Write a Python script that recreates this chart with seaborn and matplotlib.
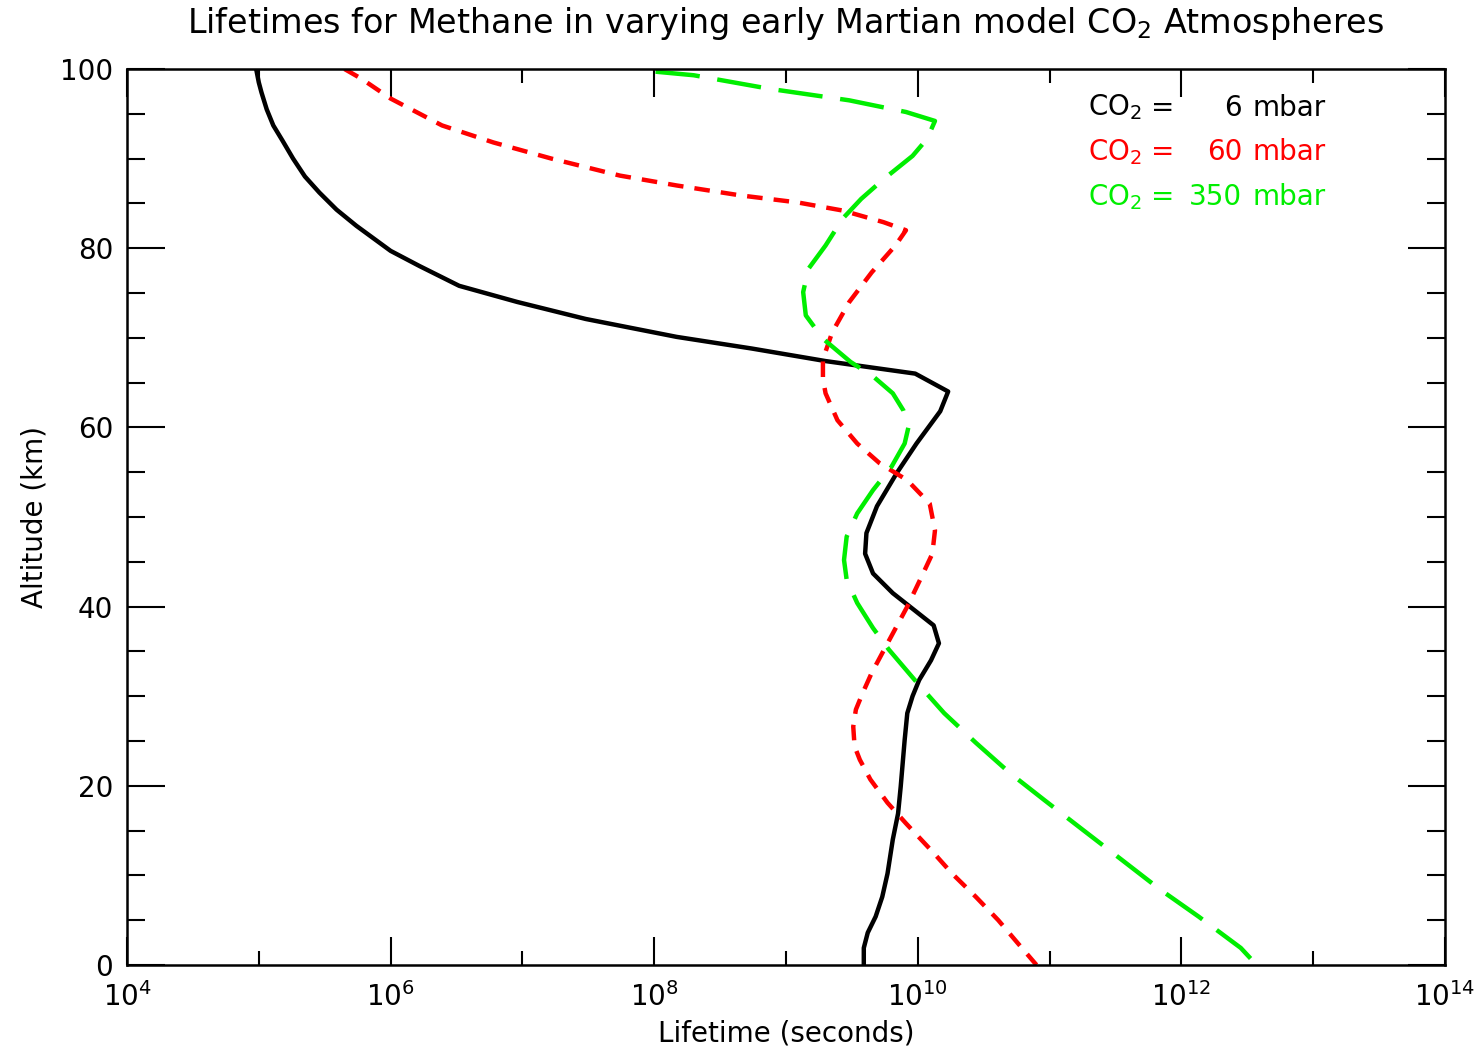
import numpy as np
import matplotlib
matplotlib.use("Agg")
import matplotlib.pyplot as plt
import seaborn as sns
from matplotlib.ticker import FixedLocator, FixedFormatter, NullFormatter

# altitude (km) and log10(lifetime / s)
alt_6 = [100, 98.5, 97.4, 95.5, 93.7, 92, 90, 88, 86.2, 84.3, 82.5, 79.7, 78, 75.8, 74,
         72.1, 70.1, 68.8, 67.4, 66.0, 64.0, 61.8, 58.2, 54.9, 51.2, 48.2, 45.9, 43.7,
         41.5, 37.9, 35.9, 34.0, 31.8, 30.0, 28.1, 25.1, 19.9, 16.9, 14.0, 10.2, 7.6, 5.4,
         3.6, 1.9, 0]
log_6 = [4.98, 5.0, 5.02, 5.06, 5.11, 5.18, 5.26, 5.35, 5.46, 5.59, 5.74, 6.0, 6.22, 6.52,
         6.96, 7.48, 8.17, 8.74, 9.30, 9.98, 10.23, 10.17, 9.99, 9.84, 9.69, 9.61, 9.60,
         9.66, 9.81, 10.12, 10.16, 10.10, 10.01, 9.96, 9.92, 9.90, 9.87, 9.85, 9.81, 9.77,
         9.73, 9.68, 9.62, 9.59, 9.59]

alt_60 = [100, 98.9, 96.7, 93.7, 91.8, 90.0, 88.1, 87.0, 85.9, 85.1, 84.2, 82.9, 82.0,
          80.3, 77.3, 74.0, 70.6, 67.6, 65.4, 63.8, 60.8, 58.2, 56.0, 54.1, 51.5, 48.5,
          45.9, 43.7, 40.0, 35.9, 32.6, 30.3, 28.5, 26.6, 24.4, 22.9, 20.7, 18.1, 15.8,
          12.5, 10.2, 7.6, 5.0, 2.4, 0]
log_60 = [5.65, 5.78, 6.0, 6.39, 6.78, 7.22, 7.74, 8.17, 8.65, 9.09, 9.43, 9.74, 9.91,
          9.83, 9.65, 9.48, 9.35, 9.28, 9.28, 9.30, 9.39, 9.54, 9.71, 9.92, 10.09, 10.13,
          10.11, 10.04, 9.92, 9.77, 9.65, 9.58, 9.53, 9.51, 9.52, 9.56, 9.64, 9.77, 9.91,
          10.12, 10.26, 10.44, 10.61, 10.76, 10.90]

alt_350 = [99.7, 99.3, 97.8, 96.5, 95.2, 94.2, 92.2, 90.3, 87.7, 85.5, 83.3, 80.3, 77.7,
           75.1, 72.5, 69.9, 67.3, 65.7, 63.8, 61.9, 60.1, 58.2, 55.6, 53.0, 50.4, 47.8,
           45.2, 43.0, 40.4, 37.6, 35.2, 31.4, 28.1, 24.8, 21.4, 18.4, 15.1, 11.7, 8.4,
           5.4, 1.9, 0]
log_350 = [8.01, 8.30, 8.87, 9.48, 9.91, 10.13, 10.07, 9.96, 9.74, 9.57, 9.43, 9.30, 9.17,
           9.13, 9.15, 9.28, 9.49, 9.66, 9.81, 9.89, 9.93, 9.90, 9.80, 9.66, 9.54, 9.46,
           9.44, 9.46, 9.54, 9.66, 9.78, 10.0, 10.20, 10.44, 10.70, 10.96, 11.25, 11.55,
           11.84, 12.13, 12.45, 12.57]

pressures = ["6", "60", "350"]
colors = ["black", "#ff0000", "#00ee00"]

sns.set_style("ticks")
plt.rcParams['font.family'] = ['DejaVu Sans']
plt.rcParams['text.color'] = 'black'
plt.rcParams['axes.labelcolor'] = 'black'

fig = plt.figure(figsize=(14.8, 10.5), dpi=100)
ax = fig.add_axes([0.0858, 0.081, 0.8906, 0.8533])

series = [(alt_6, log_6), (alt_60, log_60), (alt_350, log_350)]
styles = ["-", (0, (3.5, 2.5)), (0, (10, 4))]
for (alt, lg), col, ls in zip(series, colors, styles):
    sns.lineplot(x=10 ** np.array(lg), y=alt, sort=False, estimator=None,
                 color=col, linewidth=3.2, linestyle=ls, ax=ax)

ax.set_xscale("log")
ax.set_xlim(1e4, 1e14)
ax.set_ylim(0, 100)

major_x = [1e4, 1e6, 1e8, 1e10, 1e12, 1e14]
ax.xaxis.set_major_locator(FixedLocator(major_x))
ax.xaxis.set_major_formatter(FixedFormatter([r"$10^{%d}$" % int(np.log10(v)) for v in major_x]))
ax.xaxis.set_minor_locator(FixedLocator([1e5, 1e7, 1e9, 1e11, 1e13]))
ax.xaxis.set_minor_formatter(NullFormatter())
ax.yaxis.set_major_locator(FixedLocator([0, 20, 40, 60, 80, 100]))
ax.yaxis.set_minor_locator(FixedLocator(np.arange(0, 101, 5)))
ax.yaxis.set_minor_formatter(NullFormatter())

ax.tick_params(axis="both", which="both", direction="in", top=True, right=True,
               colors="black", labelsize=20, width=1.5)
ax.tick_params(axis="x", which="major", length=20, pad=12)
ax.tick_params(axis="x", which="minor", length=10)
ax.tick_params(axis="y", which="major", length=27, pad=10)
ax.tick_params(axis="y", which="minor", length=13)
for s in ax.spines.values():
    s.set_linewidth(1.8)
    s.set_color("black")

ax.set_xlabel("Lifetime (seconds)", fontsize=20, labelpad=6)
ax.set_ylabel("Altitude (km)", fontsize=20, labelpad=8)
ax.set_title("Lifetimes for Methane in varying early Martian model CO$_2$ Atmospheres",
             fontsize=24, pad=26, color="black")

# legend text block
for i, (p, col) in enumerate(zip(pressures, colors)):
    yy = 0.957 - i * 0.05
    ax.text(0.729, yy, "CO$_2$", color=col, fontsize=20, transform=ax.transAxes, va="center")
    ax.text(0.777, yy, "=", color=col, fontsize=20, transform=ax.transAxes, va="center")
    ax.text(0.846, yy, p, color=col, fontsize=20, transform=ax.transAxes, va="center", ha="right")
    ax.text(0.854, yy, "mbar", color=col, fontsize=20, transform=ax.transAxes, va="center")

fig.savefig("out.png", dpi=100)
